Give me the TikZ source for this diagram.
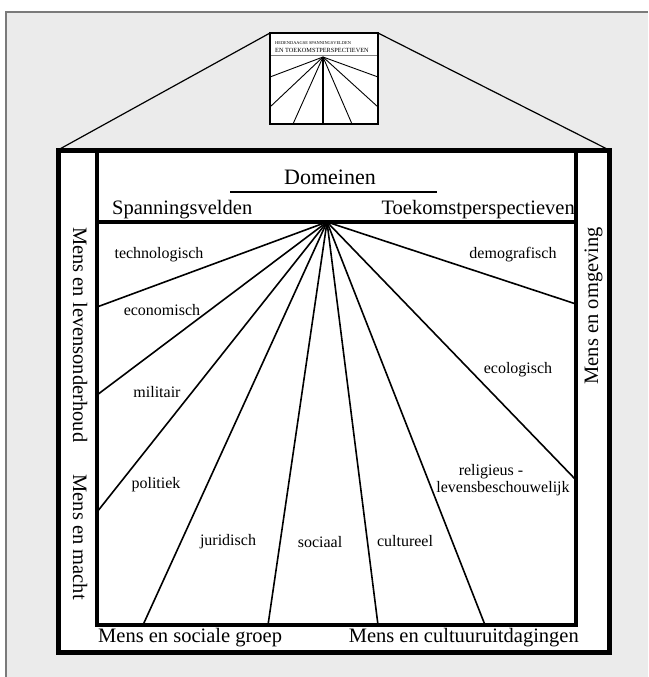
\documentclass[tikz,border=0pt]{standalone}
\usepackage{fontspec}
\setmainfont{Liberation Serif}
\definecolor{backdrop}{HTML}{EBEBEB}
\definecolor{edgegray}{HTML}{7A7A7A}
\begin{document}
\begin{tikzpicture}[x=1pt,y=-1pt,
  bigtext/.style={font=\fontsize{20.5}{24}\selectfont, inner sep=0pt},
  domtext/.style={font=\fontsize{16}{19}\selectfont, inner sep=0pt},
  fanline/.style={line width=1.6pt},
  frameline/.style={line width=5pt},
  innerline/.style={line width=4pt},
  miniline/.style={line width=0.9pt},
  roofline/.style={line width=1.2pt}]
\useasboundingbox (0,0) rectangle (648,677);

% page backdrop with its grey edge on top and left
\fill[white] (0,0) rectangle (648,677);
\fill[backdrop] (6,12) rectangle (648,677);
\draw[edgegray, line width=1.5pt] (6,677) -- (6,12) -- (648,12);

% corner points of the house and of the small cover
\coordinate (hNW) at (58,150);  \coordinate (hNE) at (609,150);
\coordinate (hSE) at (609,652); \coordinate (hSW) at (58,652);
\coordinate (tNW) at (270,33);  \coordinate (tNE) at (378,33);
\coordinate (tSE) at (378,124); \coordinate (tSW) at (270,124);

% roof lines from the house up to the cover
\draw[roofline] (hNW) -- (tNW);
\draw[roofline] (hNE) -- (tNE);

% ---------- small cover ----------
\fill[white] (tNW) rectangle (tSE);
\node[anchor=base west, inner sep=0pt, font=\fontsize{4.4}{5}\selectfont] (ttl1) at (275,45) {HEDENDAAGSE SPANNINGSVELDEN};
\node[anchor=base west, inner sep=0pt, font=\fontsize{6.3}{7}\selectfont] (ttl2) at (275,52.5) {EN TOEKOMSTPERSPECTIEVEN};
\draw[gray, line width=1.2pt] (270,55.5) -- (378,55.5);
\coordinate (tA) at (323,57);
\foreach \p in {(270,77),(270,107),(293,124),(352,124),(378,107),(378,77)}
  \draw[miniline] (tA) -- \p;
\draw[line width=1.8pt] (tA) -- (323,124);
\draw[line width=2pt] (tNW) rectangle (tSE);

% ---------- house ----------
\fill[white] (hNW) rectangle (hSE);

% inner frame
\coordinate (iNW) at (97,150);  \coordinate (iNE) at (576,150);
\coordinate (iSW) at (97,625);  \coordinate (iSE) at (576,625);
\coordinate (sL) at (97,222);   \coordinate (sR) at (576,222);

% fan of domains
\coordinate (apex) at (327,222);
\coordinate (L1) at (97,307);  \coordinate (L2) at (97,395);
\coordinate (L3) at (97,512);  \coordinate (B1) at (143,625);
\coordinate (B2) at (268,625); \coordinate (B3) at (378,625);
\coordinate (B4) at (485,625); \coordinate (R1) at (576,480);
\coordinate (R2) at (576,304);
\foreach \e in {L1,L2,L3,B1,B2,B3,B4,R1,R2}
  \draw[fanline] (apex) -- (\e);

\draw[innerline] (iNW) -- (iSW) -- (iSE) -- (iNE);
\draw[line width=3.5pt] (sL) -- (sR);
\draw[frameline] (hNW) rectangle (hSE);

% heading
\node[anchor=base, inner sep=0pt, font=\fontsize{22}{26}\selectfont] (dom) at (330,184) {Domeinen};
\draw[line width=1.4pt] (230,192) -- (437,192);
\node[bigtext, anchor=base west] (spv) at (112,214) {Spanningsvelden};
\node[bigtext, anchor=base east] (tkp) at (575,214) {Toekomstperspectieven};

% side and bottom themes
\node[bigtext, anchor=base west, rotate=-90] (levo) at (73,227) {Mens en levensonderhoud};
\node[bigtext, anchor=base east, rotate=-90] (macht) at (73,600) {Mens en macht};
\node[bigtext, anchor=base east, rotate=90] (omg) at (598,227) {Mens en omgeving};
\node[bigtext, anchor=base west] (soc) at (98,642) {Mens en sociale groep};
\node[bigtext, anchor=base east] (cult) at (579,642) {Mens en cultuuruitdagingen};

% domain labels
\node[domtext, anchor=base] (d1) at (159,258) {technologisch};
\node[domtext, anchor=base] (d2) at (162,315) {economisch};
\node[domtext, anchor=base] (d3) at (157,397) {militair};
\node[domtext, anchor=base] (d4) at (156,488) {politiek};
\node[domtext, anchor=base] (d5) at (228,545) {juridisch};
\node[domtext, anchor=base] (d6) at (320,547) {sociaal};
\node[domtext, anchor=base] (d7) at (405,546) {cultureel};
\node[domtext, anchor=base] (d8a) at (491,475) {religieus -};
\node[domtext, anchor=base] (d8b) at (503,492) {levensbeschouwelijk};
\node[domtext, anchor=base] (d9) at (518,373) {ecologisch};
\node[domtext, anchor=base] (d10) at (513,258) {demografisch};
\end{tikzpicture}
\end{document}
